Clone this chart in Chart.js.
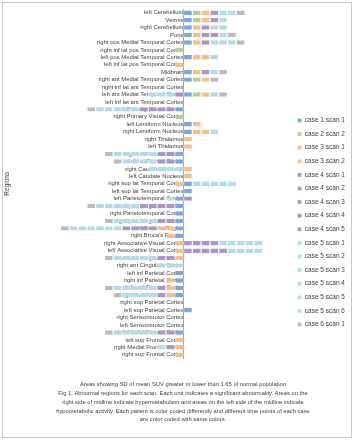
<!DOCTYPE html>
<html>
<head>
<meta charset="utf-8">
<script src="https://cdn.jsdelivr.net/npm/chart.js@4.4.1/dist/chart.umd.min.js"></script>
<style>
  html, body { margin: 0; padding: 0; background: #fff; }
</style>
</head>
<body>
<canvas id="myChart" width="354" height="440"></canvas>
<script>
// regions, top to bottom
const regions = [
  'left Cerebellum', 'Vermis', 'right Cerebellum', 'Pons',
  'right pos Medial Temporal Cortex', 'right inf lat pos Temporal Cortex',
  'left pos Medial Temporal Cortex', 'left inf lat pos Temporal Cortex', 'Midbrain',
  'right ant Medial Temporal Cortex', 'right inf lat ant Temporal Cortex',
  'left ant Medial Temporal Cortex', 'left inf lat ant Temporal Cortex',
  'left Primary Visual Cortex', 'right Primary Visual Cortex',
  'left Lentiform Nucleus', 'right Lentiform Nucleus', 'right Thalamus', 'left Thalamus',
  'right inf Frontal Cortex', 'left inf Frontal Cortex', 'right Caudate Nucleus',
  'left Caudate Nucleus', 'right sup lat Temporal Cortex', 'left sup lat Temporal Cortex',
  'left Parietotemporal Cortex', 'left pos Cingulate Cortex', 'right Parietotemporal Cortex',
  'right pos Cingulate Cortex', "left Broca's Region", "right Broca's Region",
  'right Associative Visual Cortex', 'left Associative Visual Cortex',
  'left ant Cingulate Cortex', 'right ant Cingulate Cortex', 'left inf Parietal Cortex',
  'right inf Parietal Cortex', 'left mid Frontal Cortex', 'right mid Frontal Cortex',
  'right sup Parietal Cortex', 'left sup Parietal Cortex', 'right Sensorimotor Cortex',
  'left Sensorimotor Cortex', 'left Medial Frontal Cortex', 'left sup Frontal Cortex',
  'right Medial Frontal Cortex', 'right sup Frontal Cortex'
];

// one unit per abnormal region: +1 hypermetabolism, -1 hypometabolism
const c1s1 = [1,1,1,1,1,0,1,0,1,1, 0,1,0,-1,0,1,1,0,0,-1, -1,0,0,1,1,-1,-1,-1,-1,-1, -1,0,0,0,0,-1,-1,-1,-1,0, 1,0,0,-1,0,0,0];
const c2s2 = [1,1,0,0,0,-1,0,0,0,1, 0,1,0,0,-1,0,0,0,0,0, 0,0,0,0,0,0,0,0,0,0, 0,0,0,0,0,0,0,0,0,0, 0,0,0,0,0,0,0];
const c3s1 = [1,1,1,1,1,0,1,-1,1,1, 0,1,0,0,0,1,1,1,1,0, 0,1,1,-1,0,0,0,0,0,-1, -1,-1,-1,-1,0,0,-1,-1,-1,0, 0,0,0,0,-1,-1,-1];
const c3s2 = [0,0,0,0,0,0,1,0,0,0, 0,0,0,0,0,0,1,0,0,0, 0,0,0,0,0,0,0,0,0,-1, 0,0,0,0,0,0,0,0,0,0, 0,0,0,0,0,0,0];
const c4s1 = [1,1,1,1,1,0,0,0,1,0, 0,-1,0,-1,0,0,0,0,0,-1, -1,0,0,0,0,1,-1,0,-1,-1, 0,1,1,-1,0,0,0,-1,-1,0, 0,0,0,-1,0,-1,0];
const c4s2 = [0,0,0,1,0,0,0,0,0,0, 0,0,0,-1,0,0,0,0,0,-1, -1,0,0,0,0,0,-1,0,-1,-1, 0,1,1,-1,0,0,0,0,0,0, 0,0,0,-1,0,0,0];
const c4s3 = [0,0,0,0,0,0,0,0,0,0, 0,0,0,-1,0,0,0,0,0,0, 0,0,0,0,0,0,-1,0,0,-1, 0,1,1,0,0,0,0,0,0,0, 0,0,0,0,0,0,0];
const c4s4 = [0,0,0,0,0,0,0,0,0,0, 0,0,0,-1,0,0,0,0,0,0, 0,0,0,0,0,0,-1,0,0,-1, 0,1,1,0,0,0,0,0,0,0, 0,0,0,0,0,0,0];
const c4s5 = [0,0,0,0,0,0,0,0,0,0, 0,0,0,0,0,0,0,0,0,0, 0,0,0,0,0,0,0,0,0,0, 0,0,1,0,0,0,0,0,0,0, 0,0,0,0,0,0,0];
const c5s1 = [1,1,1,1,1,0,1,0,1,0, 0,1,0,-1,0,0,1,0,0,-1, -1,-1,0,1,0,-1,-1,0,-1,-1, 0,1,1,-1,-1,0,0,-1,-1,0, 0,0,0,-1,0,-1,0];
const c5s2 = [1,0,1,0,1,0,0,0,0,0, 0,-1,0,-1,0,0,0,0,0,-1, -1,-1,0,1,0,0,-1,0,-1,-1, 0,1,1,-1,-1,0,0,-1,-1,0, 0,0,0,-1,0,0,0];
const c5s3 = [0,0,0,0,1,0,0,0,0,0, 0,-1,0,-1,0,0,0,0,0,-1, -1,-1,0,1,0,0,-1,0,-1,-1, 0,1,1,-1,-1,0,0,-1,-1,0, 0,0,0,-1,0,0,0];
const c5s4 = [0,0,0,0,0,0,0,0,0,0, 0,-1,0,-1,0,0,0,0,0,-1, -1,-1,0,1,0,0,-1,0,-1,-1, 0,1,1,-1,0,0,0,-1,-1,0, 0,0,0,-1,0,0,0];
const c5s5 = [0,0,0,0,0,0,0,0,0,0, 0,0,0,-1,0,0,0,0,0,-1, 0,0,0,1,0,0,-1,0,-1,-1, 0,1,0,-1,0,0,0,-1,0,0, 0,0,0,-1,0,0,0];
const c5s6 = [0,0,0,0,0,0,0,0,0,0, 0,0,0,0,0,0,0,0,0,0, 0,0,0,0,0,0,0,0,0,-1, 0,0,0,0,0,0,0,0,0,0, 0,0,0,0,0,0,0];
const c6s1 = [1,0,0,1,1,0,0,0,1,1, 0,1,0,-1,0,0,0,0,0,-1, -1,0,0,0,0,0,-1,0,-1,-1, 0,0,0,-1,0,0,0,-1,-1,0, 0,0,0,-1,0,0,0];

const seriesNames = ['case 1 scan 1', 'case 2 scan 2', 'case 3 scan 1', 'case 3 scan 2',
  'case 4 scan 1', 'case 4 scan 2', 'case 4 scan 3', 'case 4 scan 4', 'case 4 scan 5',
  'case 5 scan 1', 'case 5 scan 2', 'case 5 scan 3', 'case 5 scan 4', 'case 5 scan 5',
  'case 5 scan 6', 'case 6 scan 1'];
const seriesValues = [c1s1, c2s2, c3s1, c3s2, c4s1, c4s2, c4s3, c4s4, c4s5,
  c5s1, c5s2, c5s3, c5s4, c5s5, c5s6, c6s1];

const caseColors = {
  'case 1': '#7ba6de', 'case 2': '#b3d197', 'case 3': '#f7bf8c',
  'case 4': '#a996cb', 'case 5': '#b4dce8', 'case 6': '#bcbcbc'
};

const captionLines = [
  'Areas showing SD of mean SUV greater or lower than 1.65 of normal population',
  'Fig 1. Abnormal regions for each scan. Each unit indicates a significant abnormality. Areas on the',
  'right side of midline indicate hypermetabolism and areas on the left side of the midline indicate',
  'hypometabolic activity. Each patient is color coded differently and different time points of each case',
  'are color coded with same colors.'
];

const datasets = seriesNames.map((name, i) => ({
  label: name,
  data: seriesValues[i],
  backgroundColor: caseColors[name.slice(0, 6)],
  borderColor: '#ffffff',
  borderWidth: { left: 0.6, right: 0.6, top: 0, bottom: 0 },
  borderSkipped: false,
  categoryPercentage: 1,
  barPercentage: 0.6
}));

// white page and the grey frame round the whole chart
const frame = {
  id: 'frame',
  beforeDraw(chart) {
    const c = chart.ctx;
    c.save();
    c.fillStyle = '#ffffff';
    c.fillRect(0, 0, chart.width, chart.height);
    c.strokeStyle = '#c9c9c9';
    c.lineWidth = 1;
    c.strokeRect(2.5, 2.5, chart.width - 5, chart.height - 5);
    c.restore();
  }
};

const config = {
  type: 'bar',
  data: { labels: regions, datasets },
  options: {
    indexAxis: 'y',
    responsive: false,
    animation: false,
    layout: { padding: { left: 20, right: 8, top: 9, bottom: 4 } },
    scales: {
      x: {
        stacked: true,
        display: false,
        min: -18.6,
        max: 12.3
      },
      y: {
        stacked: true,
        z: 1,
        position: { x: 0 },
        grid: { display: false },
        border: { display: true, color: '#a6a6a6', width: 1 },
        ticks: {
          autoSkip: false,
          padding: 0,
          color: '#404040',
          font: { family: 'Liberation Sans', size: 5.9 }
        }
      },
      ytitle: {
        type: 'linear',
        position: 'left',
        display: true,
        grid: { display: false },
        border: { display: false },
        ticks: { display: false },
        title: {
          display: true,
          text: 'Regions',
          color: '#404040',
          padding: { top: -17, bottom: 0 },
          font: { family: 'Liberation Sans', size: 6.5 }
        }
      }
    },
    plugins: {
      tooltip: { enabled: false },
      legend: {
        position: 'right',
        labels: {
          boxWidth: 4,
          boxHeight: 4,
          padding: 7.1,
          color: '#404040',
          font: { family: 'Liberation Sans', size: 6.5 }
        }
      },
      title: {
        display: true,
        position: 'bottom',
        text: captionLines,
        color: '#404040',
        padding: { top: 22, bottom: 12 },
        font: { family: 'Liberation Sans', size: 5.8, weight: 'normal', lineHeight: 1.5 }
      }
    }
  },
  plugins: [frame]
};

const myChart = new Chart(document.getElementById('myChart'), config);
</script>
</body>
</html>
